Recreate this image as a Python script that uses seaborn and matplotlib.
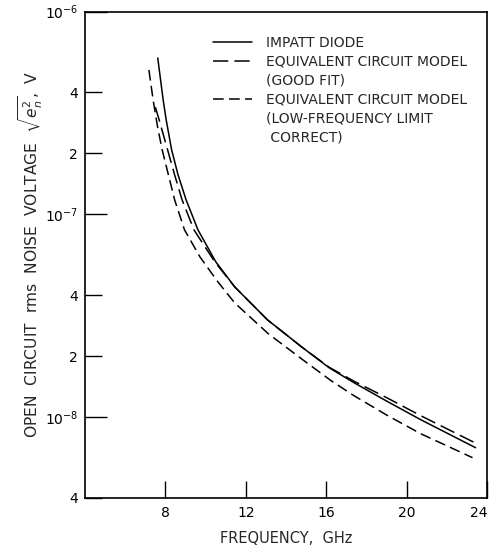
import matplotlib
matplotlib.use("Agg")
import matplotlib.pyplot as plt
from matplotlib.lines import Line2D
import seaborn as sns
import pandas as pd
from matplotlib.ticker import NullLocator

# ---- data ----
impatt_f = [7.62, 7.76, 7.89, 8.04, 8.31, 8.63, 9.03, 9.62, 10.51, 11.45, 13.08,
            14.77, 16.15, 17.39, 19.07, 20.71, 23.43]
impatt_v = [5.90e-7, 4.60e-7, 3.66e-7, 2.92e-7, 2.08e-7, 1.565e-7, 1.179e-7, 8.39e-8,
            5.83e-8, 4.39e-8, 3.02e-8, 2.225e-8, 1.753e-8, 1.479e-8, 1.192e-8,
            9.72e-9, 7.08e-9]

goodfit_f = [7.50, 7.69, 8.11, 8.46, 8.83, 9.42, 10.46, 11.45, 13.08, 14.77, 16.15,
             17.39, 19.07, 20.71, 23.43]
goodfit_v = [3.38e-7, 2.92e-7, 2.08e-7, 1.565e-7, 1.179e-7, 8.39e-8, 5.83e-8, 4.39e-8,
             3.02e-8, 2.225e-8, 1.763e-8, 1.504e-8, 1.240e-8, 1.017e-8, 7.46e-9]

lowfreq_f = [7.18, 7.39, 7.61, 7.84, 8.46, 8.95, 9.72, 10.61, 11.45, 13.12, 14.77,
             16.25, 17.39, 19.07, 20.71, 23.28]
lowfreq_v = [5.15e-7, 3.66e-7, 2.70e-7, 2.08e-7, 1.179e-7, 8.39e-8, 6.17e-8, 4.65e-8,
             3.66e-8, 2.58e-8, 1.942e-8, 1.513e-8, 1.276e-8, 1.017e-8, 8.29e-9, 6.32e-9]

# legend text: first line of each entry, then continuation lines
series_labels = ["IMPATT DIODE",
                 "EQUIVALENT CIRCUIT MODEL",
                 "EQUIVALENT CIRCUIT MODEL"]
series_extra = [[], ["(GOOD FIT)"], ["(LOW-FREQUENCY LIMIT", " CORRECT)"]]

x_ticks = [8, 12, 16, 20, 24]
y_major = [1e-6, 1e-7, 1e-8]
y_major_labels = [r"$10^{-6}$", r"$10^{-7}$", r"$10^{-8}$"]
y_minor = [4e-7, 2e-7, 4e-8, 2e-8, 4e-9]
y_minor_labels = ["4", "2", "4", "2", "4"]

# ---- figure ----
sns.set_style("ticks")
plt.rcParams["font.family"] = ["DejaVu Sans"]
plt.rcParams["mathtext.fontset"] = "dejavusans"

fig = plt.figure(figsize=(4.9, 5.51), dpi=100)
ax = fig.add_axes([85 / 490, 53 / 551, 402 / 490, 486.5 / 551])

df1 = pd.DataFrame({"f": impatt_f, "v": impatt_v})
df2 = pd.DataFrame({"f": goodfit_f, "v": goodfit_v})
df3 = pd.DataFrame({"f": lowfreq_f, "v": lowfreq_v})

sns.lineplot(data=df1, x="f", y="v", ax=ax, color="black", lw=1.1,
             label=series_labels[0])
sns.lineplot(data=df2, x="f", y="v", ax=ax, color="black", lw=1.1,
             linestyle=(0, (10, 4)), label=series_labels[1])
sns.lineplot(data=df3, x="f", y="v", ax=ax, color="black", lw=1.1,
             linestyle=(0, (7, 3.5)), label=series_labels[2])

ax.set_yscale("log")
ax.set_xlim(4, 24)
ax.set_ylim(4e-9, 1e-6)

ax.set_xticks(x_ticks)
ax.set_xticklabels([str(t) for t in x_ticks])
ax.xaxis.set_minor_locator(NullLocator())
ax.get_xticklabels()[-1].set_horizontalalignment("right")
ax.set_yticks(y_major)
ax.set_yticklabels(y_major_labels)
ax.set_yticks(y_minor, minor=True)
ax.set_yticklabels(y_minor_labels, minor=True)

ax.tick_params(axis="x", which="major", direction="in", length=12, width=1.0,
               pad=6, labelsize=10, colors="black")
ax.tick_params(axis="y", which="major", direction="in", length=16, width=1.0,
               pad=5, labelsize=10, colors="black")
ax.tick_params(axis="y", which="minor", direction="in", length=12, width=1.0,
               pad=5, labelsize=10, colors="black")

for s in ax.spines.values():
    s.set_visible(True)
    s.set_linewidth(1.2)
    s.set_color("black")

ax.set_xlabel("FREQUENCY,  GHz", fontsize=10.5, labelpad=8)
ax.set_ylabel(r"OPEN  CIRCUIT  rms  NOISE  VOLTAGE  $\sqrt{e_n^2}$,  V",
              fontsize=11.2, labelpad=0)

# legend: handle aligned with the first line of each entry
handles, labels = ax.get_legend_handles_labels()
leg_handles, leg_labels = [], []
for h, lab, extra in zip(handles, labels, series_extra):
    leg_handles.append(h)
    leg_labels.append(lab)
    for e in extra:
        leg_handles.append(Line2D([], [], color="none"))
        leg_labels.append(e)

ax.legend(leg_handles, leg_labels, loc="upper left",
          bbox_to_anchor=(0.305, 0.962), frameon=False,
          fontsize=10, handlelength=2.8, handletextpad=1.0,
          labelspacing=0.36, borderaxespad=0)

fig.savefig("out.png", dpi=100, facecolor="white")
